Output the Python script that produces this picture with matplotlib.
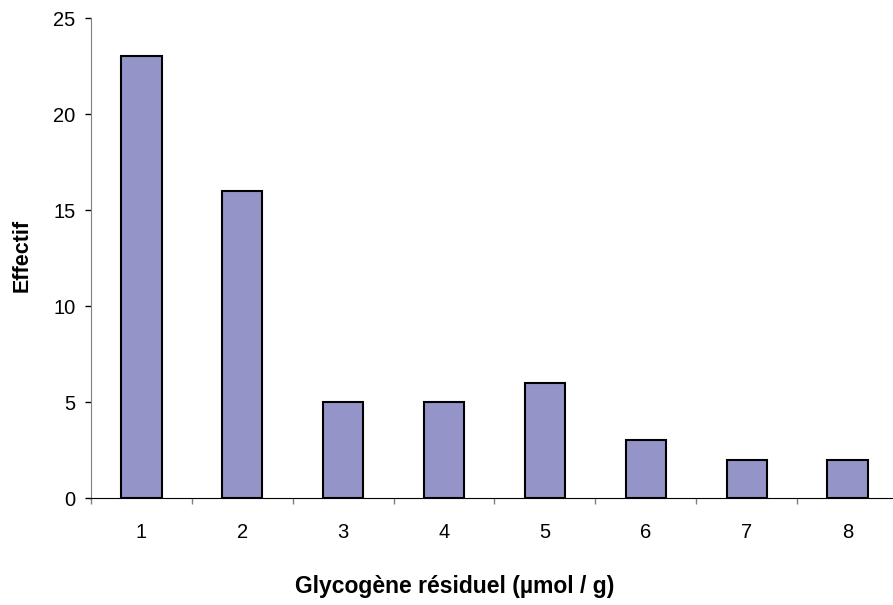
import numpy as np
import matplotlib.pyplot as plt

plt.rcParams['font.family'] = ['Liberation Sans', 'DejaVu Sans']

categories = ["1", "2", "3", "4", "5", "6", "7", "8"]
effectif = [23, 16, 5, 5, 6, 3, 2, 2]

fig = plt.figure(figsize=(8.93, 6.05), dpi=100)
ax = fig.add_axes([91 / 893, 1 - 498 / 605, (898 - 91) / 893, (498 - 18) / 605])

x = np.arange(1, len(categories) + 1)
ax.bar(x, effectif, width=0.4, color="#9494C8", edgecolor="black", linewidth=1.5, zorder=3)

ax.set_xlim(0.5, len(categories) + 0.5)
ax.set_ylim(0, 25)
ax.set_yticks(np.arange(0, 26, 5))
ax.set_xticks(x)
ax.set_xticklabels(categories)
ax.set_xticks(np.arange(0.5, len(categories) + 1, 1), minor=True)
ax.tick_params(axis="x", which="major", length=0, labelsize=14.5, pad=18)
ax.tick_params(axis="x", which="minor", length=4, width=1, color="#808080", direction="out")
ax.tick_params(axis="y", length=4.3, width=1, color="black", labelsize=14.5, pad=7, direction="out")

for s in ["top", "right"]:
    ax.spines[s].set_visible(False)
ax.spines["left"].set_color("#808080")
ax.spines["bottom"].set_color("black")

# axis titles placed as in the original chart (centred on the chart area)
fig.text(455 / 893, 1 - 587 / 605, "Glycogène résiduel (µmol / g)", fontsize=16.5,
         fontweight="bold", ha="center", va="center")
fig.text(22 / 893, 1 - 255 / 605, "Effectif", fontsize=15.5, fontweight="bold",
         rotation=90, ha="center", va="center")

fig.savefig("out.png", dpi=100)
